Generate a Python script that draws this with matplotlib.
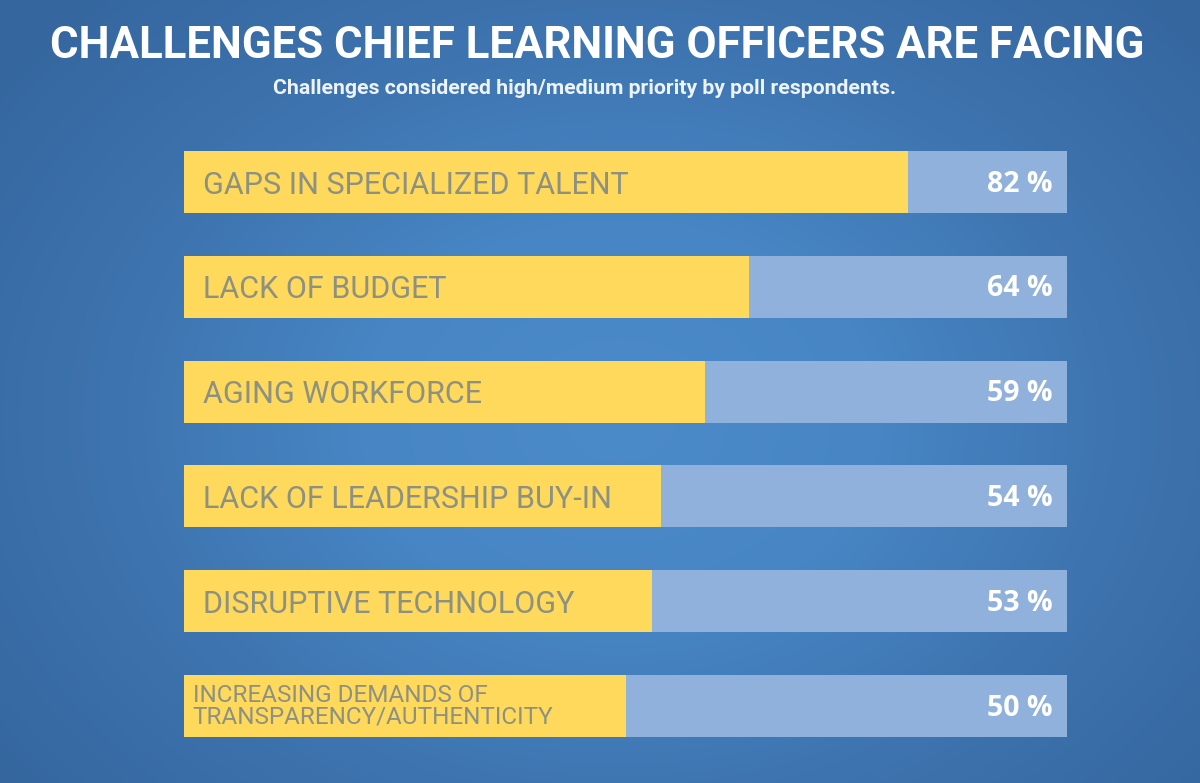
import numpy as np
import matplotlib
matplotlib.use("Agg")
import matplotlib.pyplot as plt
from matplotlib.colors import LinearSegmentedColormap

categories = [
    "GAPS IN SPECIALIZED TALENT",
    "LACK OF BUDGET",
    "AGING WORKFORCE",
    "LACK OF LEADERSHIP BUY-IN",
    "DISRUPTIVE TECHNOLOGY",
    "INCREASING DEMANDS OF\nTRANSPARENCY/AUTHENTICITY",
]
values = [82, 64, 59, 54, 53, 50]
pct_labels = ["82 %", "64 %", "59 %", "54 %", "53 %", "50 %"]

title = "CHALLENGES CHIEF LEARNING OFFICERS ARE FACING"
subtitle = "Challenges considered high/medium priority by poll respondents."

W, H = 1200, 783
fig = plt.figure(figsize=(W / 100, H / 100), dpi=100)

# background radial gradient
bg = fig.add_axes([0, 0, 1, 1])
yy, xx = np.mgrid[0:H, 0:W]
r = np.sqrt(((xx - 620) / 780.0) ** 2 + ((yy - 420) / 600.0) ** 2)
cmap = LinearSegmentedColormap.from_list("bgc", ["#4c8bca", "#4785c4", "#3d73ae", "#35669e"])
bg.imshow(np.clip(r, 0, 1), cmap=cmap, vmin=0, vmax=1, aspect="auto", extent=[0, 1, 0, 1], origin="upper")
bg.set_axis_off()

fig.text(597 / W, 1 - 46 / H, title, ha="center", va="center", color="white",
         fontsize=31.5, fontweight="bold", family="Roboto")
fig.text(585 / W, 1 - 88 / H, subtitle, ha="center", va="center", color="#eef3fa",
         fontsize=15.3, fontweight="bold", family="Roboto")

ax = fig.add_axes([184 / W, 46 / H, 883 / W, 586 / H])
ax.patch.set_alpha(0)
n = len(categories)
ypos = np.arange(n)
bh = 0.59
ax.barh(ypos, [100] * n, height=bh, color="#8fb1dc", edgecolor="none")
ax.barh(ypos, values, height=bh, color="#ffd95c", edgecolor="none")
ax.set_xlim(0, 100)
ax.set_ylim(n - 1 + bh / 2, -bh / 2)
ax.set_axis_off()

for i, (cat, pct) in enumerate(zip(categories, pct_labels)):
    if "\n" in cat:
        ax.text(1.0, i + 0.0, cat, ha="left", va="center", color="#8d9181",
                fontsize=17.5, family="Roboto", linespacing=0.95)
    else:
        ax.text(2.1, i + 0.03, cat, ha="left", va="center", color="#8d9181",
                fontsize=22, family="Roboto")
    ax.text(98.4, i + 0.02, pct, ha="right", va="center", color="white",
            fontsize=20.5, fontweight="bold", family="Open Sans")

fig.savefig("out.png", dpi=100)
